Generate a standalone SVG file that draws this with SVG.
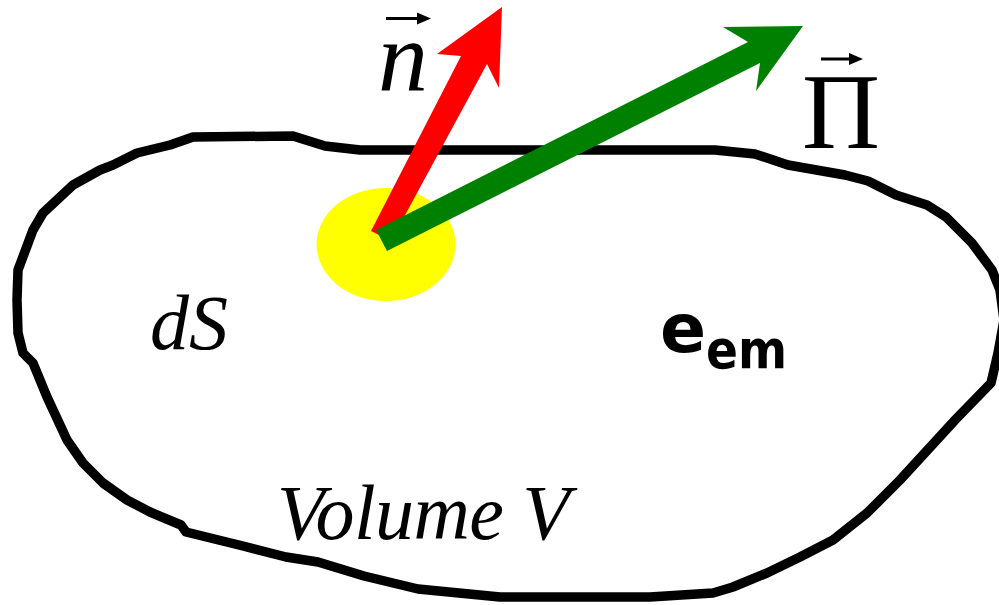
<svg xmlns="http://www.w3.org/2000/svg" width="999" height="605" viewBox="0 0 999 605">
<style>
.outline{fill:none;stroke:#000;stroke-width:9.5;stroke-linejoin:round;stroke-linecap:round}
.serif{font-family:"Liberation Serif","Times New Roman",serif;fill:#000}
.it{font-style:italic}
.vec{stroke:#000;stroke-width:3;fill:none}
.comic{font-family:"DejaVu Sans","Liberation Sans",sans-serif;font-weight:bold;fill:#000}
</style>
<rect width="999" height="605" fill="#fff"/>
<g id="volume">
<path class="outline" d="M193,137 L293,136 L325,146 L360,150 L500,150 L715,150 L755,154 L788,165 L845,175 L868,181 L896,195 L927,205 L946,217 L972,243 L992,270 L1000,290 L1004,320 L998,353 L991,383 L956,419 L900,480 L867,513 L833,540 L800,557 L767,573 L733,587 L713,593 L650,597 L500,597 L418,589 L364,576 L318,562 L286,557 L243,546 L186,532 L181,525 L150,512 L127,500 L103,483 L83,463 L67,440 L47,397 L33,363 L23,353 L18,333 L17,300 L18,270 L33,230 L43,213 L73,185 L100,170 L113,165 L137,153 L170,145 Z"/>
</g>
<g id="surface-element">
<ellipse cx="386" cy="244.5" rx="69.5" ry="56.5" fill="#ffff00"/>
</g>
<g id="connectors">
<polygon id="normal-vector" fill="#ff0000" points="371,231 461,56 437,54 502,7 499,88 487,64 391,241"/>
<polygon id="poynting-vector" fill="#008000" points="376,230 748,42 723,27 803,26 756,91 760,63 387,251"/>
</g>
<g id="label-n">
<text class="serif it" x="378" y="90" font-size="100" font-family="Liberation Serif, serif">n</text>
<line class="vec" x1="386" y1="18.5" x2="420" y2="18.5"/>
<polygon points="417,12.5 431,18.5 417,24.5" fill="#000"/>
</g>
<g id="label-pi">
<text class="serif" x="802" y="148" font-size="108" font-family="Liberation Serif, serif">Π</text>
<line class="vec" x1="821" y1="59" x2="852" y2="59"/>
<polygon points="849,53 863,59 849,65" fill="#000"/>
</g>
<g id="label-ds">
<text class="serif it" x="150" y="349" font-size="78" font-family="Liberation Serif, serif">dS</text>
</g>
<g id="label-eem">
<text class="comic" x="660" y="352" font-size="68">e</text>
<text class="comic" x="706" y="368" font-size="54" textLength="81" lengthAdjust="spacingAndGlyphs">em</text>
</g>
<g id="label-volume">
<text class="serif it" x="277" y="539" font-size="78" font-family="Liberation Serif, serif" textLength="293" lengthAdjust="spacing">Volume V</text>
</g>
</svg>
